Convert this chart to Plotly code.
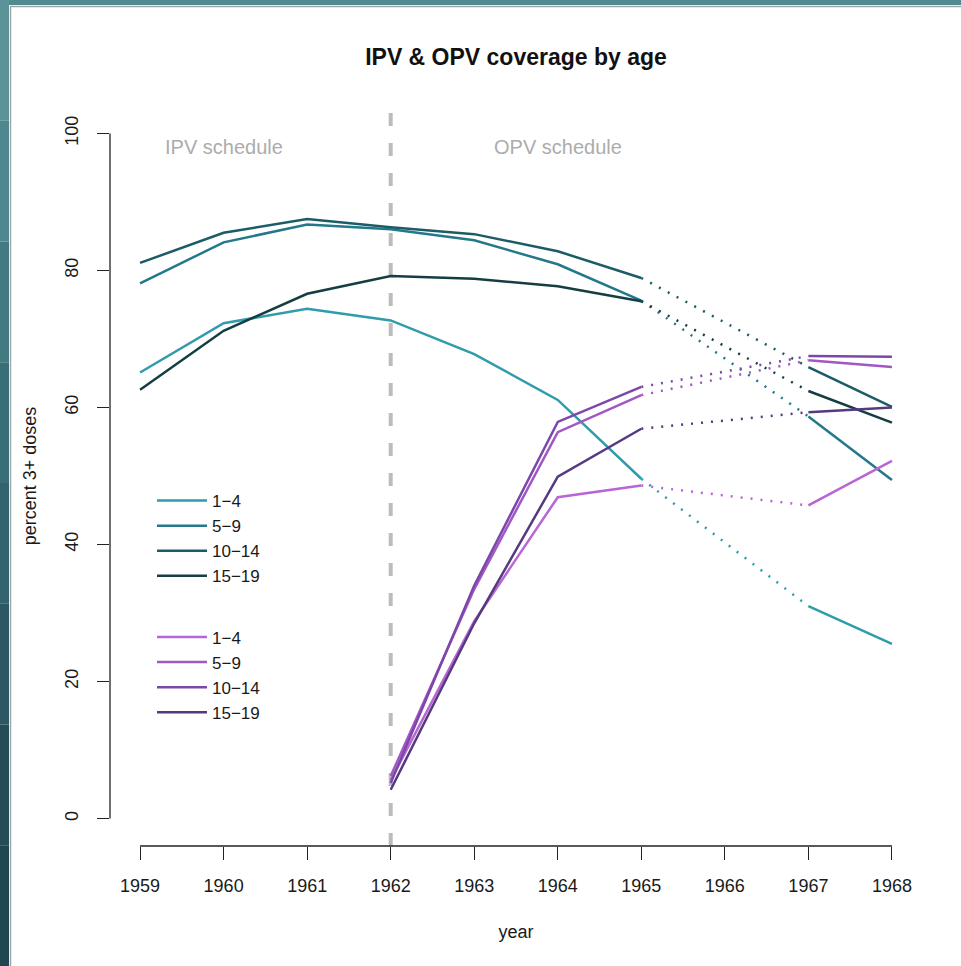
import plotly.graph_objects as go

# ---------------- data ----------------
years_ipv = [1959, 1960, 1961, 1962, 1963, 1964, 1965, 1966, 1967, 1968]
ipv_1_4 = [65.1, 72.3, 74.4, 72.7, 67.8, 61.1, 49.6, None, 31.0, 25.5]
ipv_5_9 = [78.1, 84.1, 86.7, 86.0, 84.4, 80.9, 75.6, None, 58.7, 49.4]
ipv_10_14 = [81.1, 85.5, 87.5, 86.3, 85.3, 82.8, 78.9, None, 65.9, 60.1]
ipv_15_19 = [62.6, 71.2, 76.6, 79.2, 78.8, 77.7, 75.5, None, 62.4, 57.8]

years_opv = [1962, 1963, 1964, 1965, 1966, 1967, 1968]
opv_1_4 = [5.6, 28.8, 46.9, 48.6, None, 45.7, 52.2]
opv_5_9 = [6.2, 33.5, 56.4, 61.8, None, 66.9, 65.9]
opv_10_14 = [5.2, 34.0, 57.9, 63.0, None, 67.5, 67.4]
opv_15_19 = [4.2, 28.5, 49.9, 56.9, None, 59.3, 60.0]

age_labels = ["1\u22124", "5\u22129", "10\u221214", "15\u221219"]
ipv_colors = ["#2e9cab", "#23798b", "#1b5c66", "#143e42"]
opv_colors = ["#b866d4", "#a157c4", "#7d47aa", "#563a80"]

x_ticks = list(range(1959, 1969))
y_ticks = [0, 20, 40, 60, 80, 100]
switch_year = 1962
gap_from, gap_to = 1965, 1967

title_text = "IPV & OPV coverage by age"
schedule_labels = [("IPV schedule", 1960, 98), ("OPV schedule", 1964, 98)]

FONT = "Liberation Sans, Arial, Helvetica, sans-serif"

fig = go.Figure()


def add_series(years, vals, color, name, group):
    # solid parts (gap at 1966 breaks the line)
    fig.add_trace(go.Scatter(
        x=years, y=vals, mode="lines", name=name,
        line=dict(color=color, width=2.5), connectgaps=False,
        legendgroup=group, showlegend=True, hoverinfo="x+y+name"))
    # dotted bridge over the missing year
    i0, i1 = years.index(gap_from), years.index(gap_to)
    fig.add_trace(go.Scatter(
        x=[years[i0], years[i1]], y=[vals[i0], vals[i1]], mode="lines",
        line=dict(color=color, width=2.5, dash="2px,8px"),
        legendgroup=group, showlegend=False, hoverinfo="skip"))


for lab, vals, col in zip(age_labels, [ipv_1_4, ipv_5_9, ipv_10_14, ipv_15_19], ipv_colors):
    add_series(years_ipv, vals, col, lab, "ipv")
for lab, vals, col in zip(age_labels, [opv_1_4, opv_5_9, opv_10_14, opv_15_19], opv_colors):
    add_series(years_opv, vals, col, lab, "opv")

W, H = 961, 966
ml, mr, mt, mb = 110, 39, 106, 120
pw, ph = W - ml - mr, H - mt - mb


def px2paper_x(px):
    return (px - ml) / pw


def px2paper_y(py):
    return (H - mb - py) / ph


shapes = []
# decorative screenshot border (teal band top & left)
left_cols = ["#5b9399", "#4f878e", "#437a82", "#3a6e77", "#33636d", "#2b5862", "#244d58", "#1f4651"]
n = len(left_cols)
for i, c in enumerate(left_cols):
    shapes.append(dict(type="rect", xref="paper", yref="paper",
                       x0=px2paper_x(0), x1=px2paper_x(9),
                       y0=px2paper_y(H * (i + 1) / n), y1=px2paper_y(H * i / n),
                       fillcolor=c, line=dict(width=0), layer="below"))
shapes.append(dict(type="rect", xref="paper", yref="paper",
                   x0=px2paper_x(9), x1=px2paper_x(W),
                   y0=px2paper_y(5), y1=px2paper_y(0),
                   fillcolor="#518b90", line=dict(width=0), layer="below"))
shapes.append(dict(type="line", xref="paper", yref="paper",
                   x0=px2paper_x(10.5), x1=px2paper_x(10.5),
                   y0=px2paper_y(H), y1=px2paper_y(6),
                   line=dict(color="#9aa6a8", width=1.5), layer="below"))
shapes.append(dict(type="line", xref="paper", yref="paper",
                   x0=px2paper_x(10), x1=px2paper_x(W),
                   y0=px2paper_y(6.5), y1=px2paper_y(6.5),
                   line=dict(color="#9aa6a8", width=1.5), layer="below"))

# R-style axis lines spanning only the tick range
shapes.append(dict(type="line", xref="x", yref="paper", x0=x_ticks[0], x1=x_ticks[-1],
                   y0=0, y1=0, line=dict(color="#222222", width=1.3)))
shapes.append(dict(type="line", xref="paper", yref="y", x0=0, x1=0,
                   y0=y_ticks[0], y1=y_ticks[-1], line=dict(color="#222222", width=1.3)))
# schedule switch line
shapes.append(dict(type="line", xref="x", yref="paper", x0=switch_year, x1=switch_year,
                   y0=0, y1=1, line=dict(color="#bcbcbc", width=4, dash="13px,17px"),
                   layer="below"))

annotations = [dict(x=x, y=y, xref="x", yref="y", text=t, showarrow=False,
                    font=dict(family=FONT, size=20, color="#acacac"))
               for t, x, y in schedule_labels]

fig.update_layout(
    width=W, height=H,
    margin=dict(l=ml, r=mr, t=mt, b=mb),
    paper_bgcolor="white", plot_bgcolor="white",
    font=dict(family=FONT, size=18, color="#1a1a1a"),
    title=dict(text="<b>" + title_text + "</b>", x=0.5, xref="paper",
               y=1 - 57 / H, yref="container", yanchor="middle", xanchor="center",
               font=dict(family=FONT, size=23, color="#111111")),
    xaxis=dict(range=[1958.64, 1968.36], tickvals=x_ticks, ticks="outside", ticklen=13,
               tickcolor="#222222", tickwidth=1.3, showgrid=False, zeroline=False,
               showline=False, ticklabelstandoff=10,
               title=dict(text="year", standoff=30, font=dict(size=18))),
    yaxis=dict(range=[-4, 104], tickvals=y_ticks, ticks="outside", ticklen=12,
               tickcolor="#222222", tickwidth=1.3, showgrid=False, zeroline=False,
               showline=False, tickangle=-90, ticklabelstandoff=12,
               title=dict(text="percent 3+ doses", standoff=20, font=dict(size=18))),
    legend=dict(x=px2paper_x(152), y=px2paper_y(483), xanchor="left", yanchor="top",
                bgcolor="rgba(0,0,0,0)", font=dict(size=17), tracegroupgap=36,
                traceorder="grouped", itemwidth=50),
    shapes=shapes,
    annotations=annotations,
)

fig.write_html("out.html", config={"displayModeBar": False},
               post_script="document.body.style.margin='0';")
